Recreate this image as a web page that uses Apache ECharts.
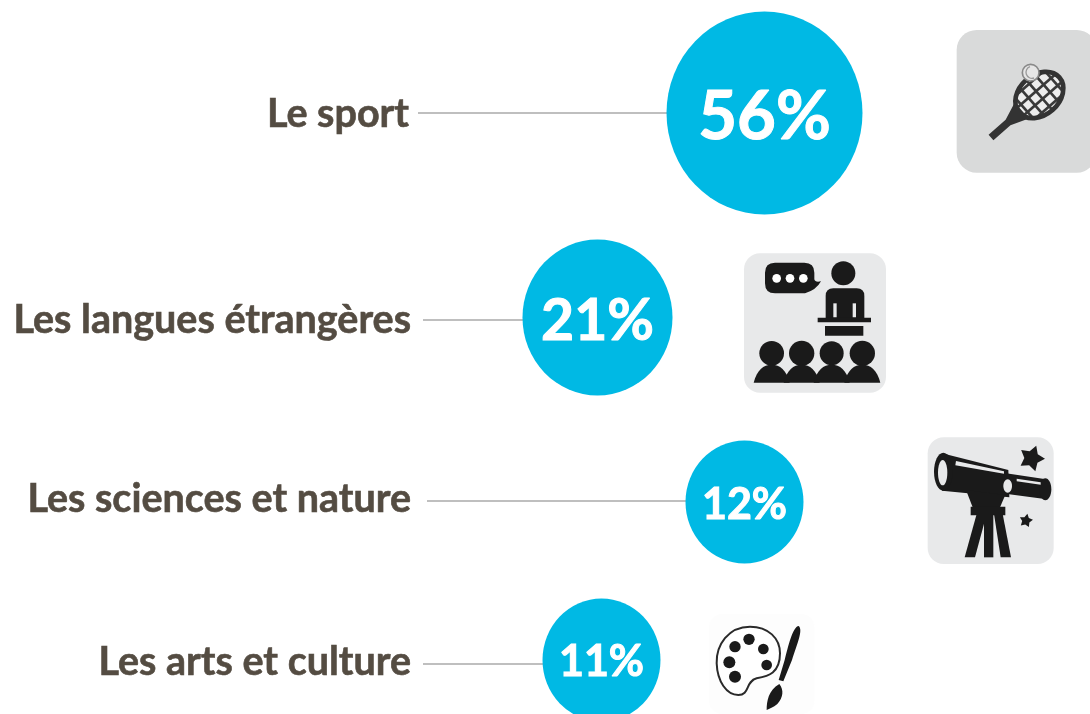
<!DOCTYPE html>
<html>
<head>
<meta charset="utf-8">
<style>html,body{margin:0;padding:0;background:#fff;overflow:hidden}#c{width:1090px;height:714px}</style>
<script src="https://cdn.jsdelivr.net/npm/echarts@6/dist/echarts.min.js"></script>
</head>
<body>
<div id="c"></div>
<script>
// ---- data ----
const categories = ['Le sport', 'Les langues étrangères', 'Les sciences et nature', 'Les arts et culture'];
const shares = [56, 21, 12, 11];

// ---- layout (kept apart from the data) ----
const bubbleLayout = [
  {cx: 764.5, cy: 113,   w: 196, h: 203, font: 67, dy: 4, lineY: 113, lineX: 418, labelDy: 1, gap: 9},
  {cx: 597.5, cy: 317.5, w: 150, h: 156, font: 57, dy: 4, lineY: 320, lineX: 423, labelDy: 0, gap: 12},
  {cx: 744.5, cy: 502,   w: 118, h: 123, font: 43, dy: 3, lineY: 501, lineX: 427, labelDy: -2, gap: 16},
  {cx: 601.5, cy: 660,   w: 118, h: 123, font: 43, dy: 2, lineY: 664, lineX: 423, labelDy: -2, gap: 12}
];
const BLUE = '#00B9E4', INK = '#544C42', RULE = '#BFBFBF', FONT = 'Lato, "Open Sans", sans-serif';

// ---- decorative pictograms (drawn as vector shapes) ----
const DARK = '#1A1A1A';
function circle(cx, cy, r, fill, extra) { return Object.assign({type: 'circle', shape: {cx, cy, r}, style: {fill}}, extra || {}); }
function ellipse(cx, cy, rx, ry, fill, extra) { return Object.assign({type: 'ellipse', shape: {cx, cy, rx, ry}, style: {fill}}, extra || {}); }
function rect(x, y, width, height, fill, r) { return {type: 'rect', shape: {x, y, width, height, r: r || 0}, style: {fill}}; }
function poly(points, fill) { return {type: 'polygon', shape: {points}, style: {fill}}; }
let pathCount = 0;
function path(d, style) {
  const name = 'iconPath' + (pathCount++);
  echarts.graphic.registerShape(name, echarts.graphic.extendPath(d, {}));
  return {type: name, style};
}
function star(cx, cy, R, rot) {
  const p = [];
  for (let i = 0; i < 10; i++) {
    const a = rot + i * Math.PI / 5, r = i % 2 ? R * 0.55 : R;
    p.push([cx + r * Math.sin(a), cy - r * Math.cos(a)]);
  }
  return poly(p, DARK);
}
// every icon is drawn in the 3x coordinates of its crop
function icon(x, y, children) { return {type: 'group', x, y, scaleX: 1 / 3, scaleY: 1 / 3, silent: true, children}; }

function racket() {
  const rx = 60, ry = 80;
  const strings = [];
  for (let v = -45; v <= 45; v += 30) {
    const hy = ry * Math.sqrt(1 - v * v / (rx * rx));
    strings.push({type: 'line', shape: {x1: v, y1: -hy, x2: v, y2: hy}, style: {stroke: '#3A3A3A', lineWidth: 8}});
  }
  for (let v = -60; v <= 60; v += 30) {
    const hx = rx * Math.sqrt(1 - v * v / (ry * ry));
    strings.push({type: 'line', shape: {x1: -hx, y1: v, x2: hx, y2: v}, style: {stroke: '#3A3A3A', lineWidth: 8}});
  }
  return [
    rect(50, 30, 420, 428, '#D9DADA', 60),
    {type: 'group', x: 298, y: 225, rotation: -0.85, children: [
      ellipse(0, 0, rx, ry, '#EDEDED'),
      ...strings,
      ellipse(0, 0, rx, ry, 'none', {style: {fill: 'none', stroke: '#333', lineWidth: 14}}),
      poly([[-32, 70], [32, 70], [11, 125], [11, 193], [-11, 193], [-11, 125]], '#333')
    ]},
    circle(272, 158, 25, '#D9DADA', {style: {fill: '#E6E6E6', stroke: '#8A8A8A', lineWidth: 5}}),
    path('M270 140 A18 18 0 1 0 282 174', {fill: 'none', stroke: '#9A9A9A', lineWidth: 4})
  ];
}
function speaker() {
  const kids = [
    rect(27, 40, 426, 418, '#E8E9EA', 48),
    path('M120 68 H208 Q238 68 238 98 V118 Q240 128 258 124 Q244 150 210 160 H120 Q90 160 90 130 V98 Q90 68 120 68 Z', {fill: DARK}),
    circle(125, 115, 13, '#fff'), circle(165, 115, 13, '#fff'), circle(205, 115, 13, '#fff'),
    circle(325, 100, 36, DARK),
    path('M272 235 V168 Q272 145 295 145 H365 Q388 145 388 168 V235 Z', {fill: DARK}),
    rect(295, 190, 10, 42, '#E8E9EA'), rect(353, 190, 10, 42, '#E8E9EA'),
    rect(248, 233, 160, 14, DARK), rect(270, 258, 115, 29, DARK)
  ];
  [[110, 37], [200, 38], [290, 36], [382, 38]].forEach(h => {
    kids.push(circle(h[0], 340, h[1], DARK));
    kids.push(path('M' + (h[0] - 54) + ' 428 C' + (h[0] - 44) + ' 390 ' + (h[0] - 25) + ' 374 ' + h[0] + ' 374 C' + (h[0] + 25) + ' 374 ' + (h[0] + 44) + ' 390 ' + (h[0] + 54) + ' 428 Z', {fill: DARK}));
  });
  return kids;
}
function telescope() {
  return [
    rect(23, 22, 378, 380, '#E8E9EA', 48),
    poly([[66, 70], [265, 120], [268, 202], [66, 182]], DARK),
    poly([[258, 130], [378, 148], [380, 208], [262, 192]], DARK),
    ellipse(70, 125, 28, 57, DARK),
    ellipse(68, 128, 14, 38, '#E8E9EA'),
    ellipse(376, 178, 18, 33, DARK),
    poly([[108, 93], [252, 124], [252, 131], [106, 106]], '#E8E9EA'),
    poly([[290, 146], [362, 157], [362, 164], [290, 154]], '#E8E9EA'),
    ellipse(263, 168, 13, 20, '#E8E9EA'),
    poly([[138, 180], [256, 195], [240, 232], [158, 232]], DARK),
    rect(152, 230, 104, 26, DARK),
    poly([[170, 252], [200, 252], [165, 382], [134, 382]], DARK),
    poly([[192, 252], [220, 252], [220, 382], [192, 382]], DARK),
    poly([[222, 252], [248, 252], [273, 382], [242, 382]], DARK),
    star(335, 85, 40, 0.35),
    star(318, 272, 21, 0.2)
  ];
}
function palette() {
  const kids = [
    rect(27, 12, 316, 300, '#FDFDFD', 40),
    path('M150 50 C85 50 48 105 50 160 C52 215 80 255 115 255 C150 255 135 215 170 205 C205 198 240 190 240 130 C240 85 205 50 150 50 Z',
      {fill: '#fff', stroke: '#2A2A2A', lineWidth: 6})
  ];
  [[147, 88, 17], [105, 110, 17], [190, 117, 16], [88, 157, 18], [200, 165, 16], [105, 200, 18]].forEach(d => kids.push(circle(d[0], d[1], d[2], DARK)));
  kids.push(path('M296 48 C310 60 292 100 276 150 L250 214 L236 210 L254 150 C264 110 278 50 296 48 Z', {fill: DARK}));
  kids.push(path('M238 222 C252 240 250 262 232 282 C220 292 208 296 200 300 C200 275 205 240 238 222 Z', {fill: DARK}));
  return kids;
}

// ---- chart ----
const lineSeries = categories.map((name, i) => ({
  type: 'line', name, silent: true, z: 1,
  symbol: 'none',
  lineStyle: {color: RULE, width: 2},
  data: [[bubbleLayout[i].lineX, bubbleLayout[i].lineY], [bubbleLayout[i].cx, bubbleLayout[i].lineY]]
}));

const option = {
  animation: false,
  backgroundColor: '#fff',
  grid: {left: 0, right: 0, top: 0, bottom: 0},
  xAxis: {type: 'value', min: 0, max: 1090, show: false},
  yAxis: {type: 'value', min: 0, max: 714, inverse: true, show: false},
  graphic: {elements: [
    icon(940, 20, racket()),
    icon(735, 240, speaker()),
    icon(920, 430, telescope()),
    icon(700, 610, palette())
  ]},
  series: [
    ...lineSeries,
    {
      type: 'scatter', name: 'labels', silent: true, z: 3,
      symbolSize: 0,
      itemStyle: {opacity: 1},
      data: categories.map((name, i) => ({
        name,
        value: [bubbleLayout[i].lineX, bubbleLayout[i].lineY],
        label: {
          show: true, position: 'left', distance: 0,
          offset: [-bubbleLayout[i].gap, bubbleLayout[i].labelDy],
          formatter: name, color: INK, fontFamily: FONT, fontWeight: 'bold', fontSize: 39.5,
          textBorderColor: INK, textBorderWidth: 0.6
        }
      }))
    },
    {
      type: 'scatter', name: 'share', silent: true, z: 4,
      itemStyle: {opacity: 1},
      data: shares.map((v, i) => ({
        value: [bubbleLayout[i].cx, bubbleLayout[i].cy, v],
        symbolSize: [bubbleLayout[i].w, bubbleLayout[i].h],
        itemStyle: {color: BLUE, opacity: 1},
        label: {
          show: true, position: 'inside', offset: [0, bubbleLayout[i].dy],
          formatter: v + '%', color: '#fff', fontFamily: FONT, fontWeight: 'bold', fontSize: bubbleLayout[i].font,
          textBorderColor: '#fff', textBorderWidth: 1
        }
      }))
    }
  ]
};
const chart = echarts.init(document.getElementById('c'), null, {renderer: 'canvas', width: 1090, height: 714});
chart.setOption(option);
</script>
</body>
</html>
